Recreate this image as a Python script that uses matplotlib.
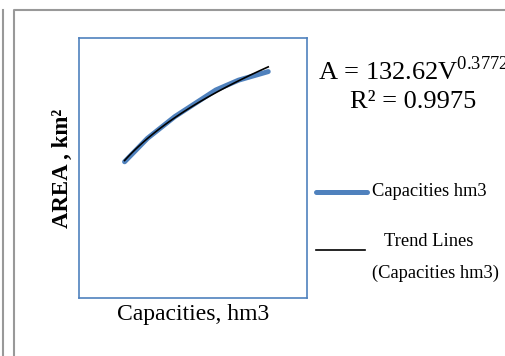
import matplotlib
matplotlib.use("Agg")
import matplotlib.pyplot as plt
from matplotlib.lines import Line2D
import numpy as np

plt.rcParams['font.family'] = ['Liberation Serif', 'DejaVu Serif']
plt.rcParams['mathtext.fontset'] = 'custom'
plt.rcParams['mathtext.rm'] = 'Liberation Serif'

# data (no ticks shown, units guessed from the trend equation)
capacities = [20, 30, 42, 52, 60, 70, 83]          # hm3
areas = [414, 485, 551, 596, 632, 662, 688]         # km2
eq_text = r"A = 132.62V$^{\mathrm{0.3772}}$"
r2_text = "R² = 0.9975"
series_label = "Capacities hm3"
trend_label1 = "Trend Lines"
trend_label2 = "(Capacities hm3)"

blue = '#4F81BD'

# power trend line fitted on logs
k, b = np.polyfit(np.log(capacities), np.log(areas), 1)
v_fit = np.linspace(min(capacities), max(capacities), 100)
a_fit = np.exp(b) * v_fit ** k

fig = plt.figure(figsize=(5.05, 3.56), dpi=100)
ax = fig.add_axes([0.1564, 0.1629, 0.4515, 0.7303])
ax.plot(capacities, areas, color=blue, lw=3.6, solid_capstyle='round')
ax.plot(v_fit, a_fit, color='black', lw=1.2)
ax.set_xlim(0, 100)
ax.set_ylim(0, 790)
ax.set_xticks([])
ax.set_yticks([])
for s in ax.spines.values():
    s.set_color(blue)
    s.set_linewidth(1.2)
ax.set_xlabel("Capacities, hm3", fontsize=17, labelpad=4)
ax.set_ylabel("AREA , km²", fontsize=16.5, fontweight='bold', labelpad=4)

# equation text
fig.text(318 / 505, 1 - 71 / 356, eq_text, fontsize=19, va='center', ha='left')
fig.text(413 / 505, 1 - 102 / 356, r2_text, fontsize=19, va='center', ha='center')

# hand-made legend
fig.add_artist(Line2D([316 / 505, 367 / 505], [1 - 192 / 356] * 2, color=blue, lw=3.6,
                      solid_capstyle='round', transform=fig.transFigure))
fig.text(372 / 505, 1 - 192 / 356, series_label, fontsize=13.3, va='center', ha='left')
fig.add_artist(Line2D([316 / 505, 365 / 505], [1 - 250 / 356] * 2, color='black', lw=1.2,
                      transform=fig.transFigure))
fig.text(429 / 505, 1 - 242 / 356, trend_label1, fontsize=13.3, va='center', ha='center')
fig.text(436 / 505, 1 - 273 / 356, trend_label2, fontsize=13.3, va='center', ha='center')

# page frame lines
frame = '#999999'
fig.add_artist(Line2D([3 / 505, 3 / 505], [0, 1 - 10 / 356], color=frame, lw=1.5,
                      transform=fig.transFigure))
fig.add_artist(Line2D([14 / 505, 14 / 505, 1], [0, 1 - 10 / 356, 1 - 10 / 356], color=frame,
                      lw=1.5, transform=fig.transFigure))

fig.savefig("out.png", dpi=100)
